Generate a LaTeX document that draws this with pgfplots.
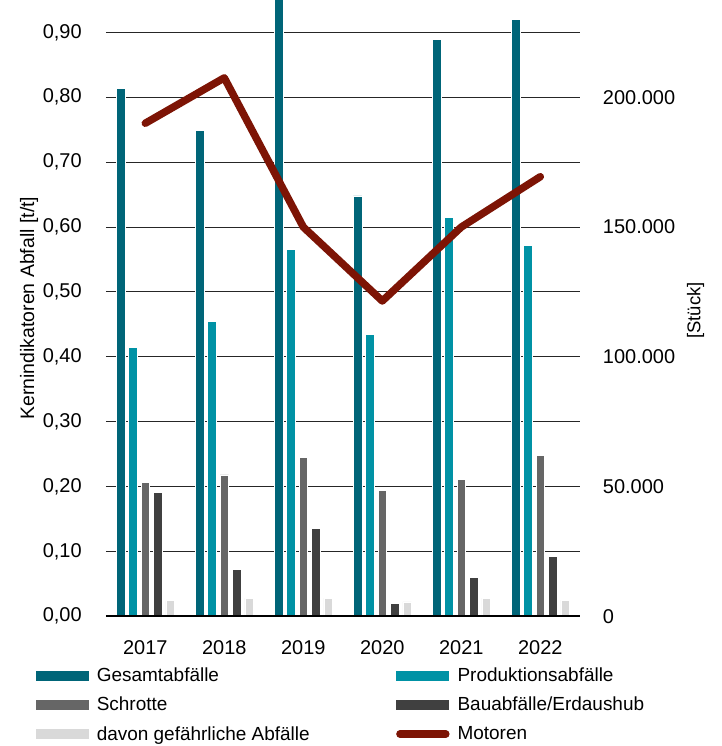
\documentclass[border=0pt]{standalone}
\usepackage{pgfplots}
\usepackage{pgfplotstable}
\pgfplotsset{compat=1.18}
\usepackage{fontspec}
\setmainfont{Liberation Sans}
\definecolor{cGes}{RGB}{0,101,120}
\definecolor{cProd}{RGB}{0,146,165}
\definecolor{cSchr}{RGB}{102,102,102}
\definecolor{cBau}{RGB}{64,64,64}
\definecolor{cGef}{RGB}{217,217,217}
\definecolor{cMot}{RGB}{125,20,5}

\pgfplotstableread{
x ges prod schr bau gef
0 0.814 0.415 0.206 0.191 0.024
1 0.749 0.455 0.218 0.072 0.028
2 0.960 0.566 0.245 0.135 0.028
3 0.648 0.434 0.194 0.020 0.022
4 0.889 0.615 0.211 0.060 0.028
5 0.920 0.572 0.248 0.092 0.025
}\abfall

\pgfplotstableread{
x mot
0 190000
1 207500
2 150000
3 121500
4 150000
5 169400
}\motoren

\pgfplotsset{
  barleg/.style={legend image code/.code={\fill[##1,draw=none] (0pt,-5pt) rectangle (53pt,5pt);}},
  motleg/.style={legend image code/.code={\draw[##1] (3.5pt,0pt) -- (49.5pt,0pt);}},
}

\begin{document}
\begin{tikzpicture}
\useasboundingbox (-106pt,-130pt) rectangle (617pt,617.5pt);
\begin{axis}[
  at={(0pt,0pt)}, anchor=south west,
  scale only axis, width=475pt, height=617.5pt,
  xmin=-0.5, xmax=5.5, ymin=0, ymax=0.95,
  axis x line*=bottom, axis y line*=left,
  x axis line style={draw=none}, y axis line style={draw=none},
  major tick length=0pt,
  scaled y ticks=false,
  ymajorgrids, grid style={black!85, line width=1pt},
  xtick={0,1,2,3,4,5},
  xticklabels={2017,2018,2019,2020,2021,2022},
  xticklabel style={font=\fontsize{20}{24}\selectfont, anchor=north, inner sep=0pt, yshift=-24pt},
  ytick={0,0.1,0.2,0.3,0.4,0.5,0.6,0.7,0.8,0.9},
  yticklabels={{0,00},{0,10},{0,20},{0,30},{0,40},{0,50},{0,60},{0,70},{0,80},{0,90}},
  yticklabel style={font=\fontsize{20}{24}\selectfont, anchor=east, inner sep=0pt, xshift=-24pt},
  ylabel={Kernindikatoren Abfall [t/t]},
  ylabel style={font=\fontsize{19.5}{23}\selectfont, at={(axis description cs:-0.162,0.5)}, anchor=center},
  legend columns=2,
  legend cell align=left,
  legend style={at={(axis description cs:-0.1474,-0.084)}, anchor=north west,
    draw=none, fill=none, inner sep=0pt, outer sep=0pt, row sep=14pt,
    font=\fontsize{19}{22}\selectfont, nodes={inner sep=0pt}},
  bar width=8.5pt,
]
\addplot[ybar, bar shift=-24.8pt, fill=cGes, draw=white, line width=0.5pt, barleg] table[x=x,y=ges] {\abfall};
\addlegendentry{\hspace*{8pt}\makebox[300pt][l]{Gesamtabfälle}}
\addplot[ybar, bar shift=-12.4pt, fill=cProd, draw=white, line width=0.5pt, barleg] table[x=x,y=prod] {\abfall};
\addlegendentry{\hspace*{8pt}Produktionsabfälle}
\addplot[ybar, bar shift=0pt, fill=cSchr, draw=white, line width=0.5pt, barleg] table[x=x,y=schr] {\abfall};
\addlegendentry{\hspace*{8pt}\makebox[300pt][l]{Schrotte}}
\addplot[ybar, bar shift=12.4pt, fill=cBau, draw=white, line width=0.5pt, barleg] table[x=x,y=bau] {\abfall};
\addlegendentry{\hspace*{8pt}Bauabfälle/Erdaushub}
\addplot[ybar, bar shift=24.8pt, fill=cGef, draw=white, line width=0.5pt, barleg] table[x=x,y=gef] {\abfall};
\addlegendentry{\hspace*{8pt}\makebox[300pt][l]{davon gefährliche Abfälle}}
\addlegendimage{cMot, line width=7.5pt, line cap=round, motleg}
\addlegendentry{\hspace*{8pt}Motoren}
\end{axis}
\begin{axis}[
  at={(0pt,0pt)}, anchor=south west,
  scale only axis, width=475pt, height=617.5pt,
  xmin=-0.5, xmax=5.5, ymin=0, ymax=237500,
  axis x line*=bottom, axis y line*=right,
  x axis line style={black, line width=2pt, -},
  y axis line style={draw=none},
  major tick length=0pt,
  scaled y ticks=false,
  xtick=\empty,
  ytick={0,50000,100000,150000,200000},
  yticklabels={0,50.000,100.000,150.000,200.000},
  yticklabel style={font=\fontsize{20}{24}\selectfont, anchor=west, inner sep=0pt, xshift=23pt},
  ylabel={[Stück]},
  ylabel style={font=\fontsize{18.5}{22}\selectfont, at={(axis description cs:1.244,0.496)}, anchor=center},
]
\addplot[cMot, line width=7.5pt, line cap=round, line join=round] table[x=x,y=mot] {\motoren};
\end{axis}
\end{tikzpicture}
\end{document}
